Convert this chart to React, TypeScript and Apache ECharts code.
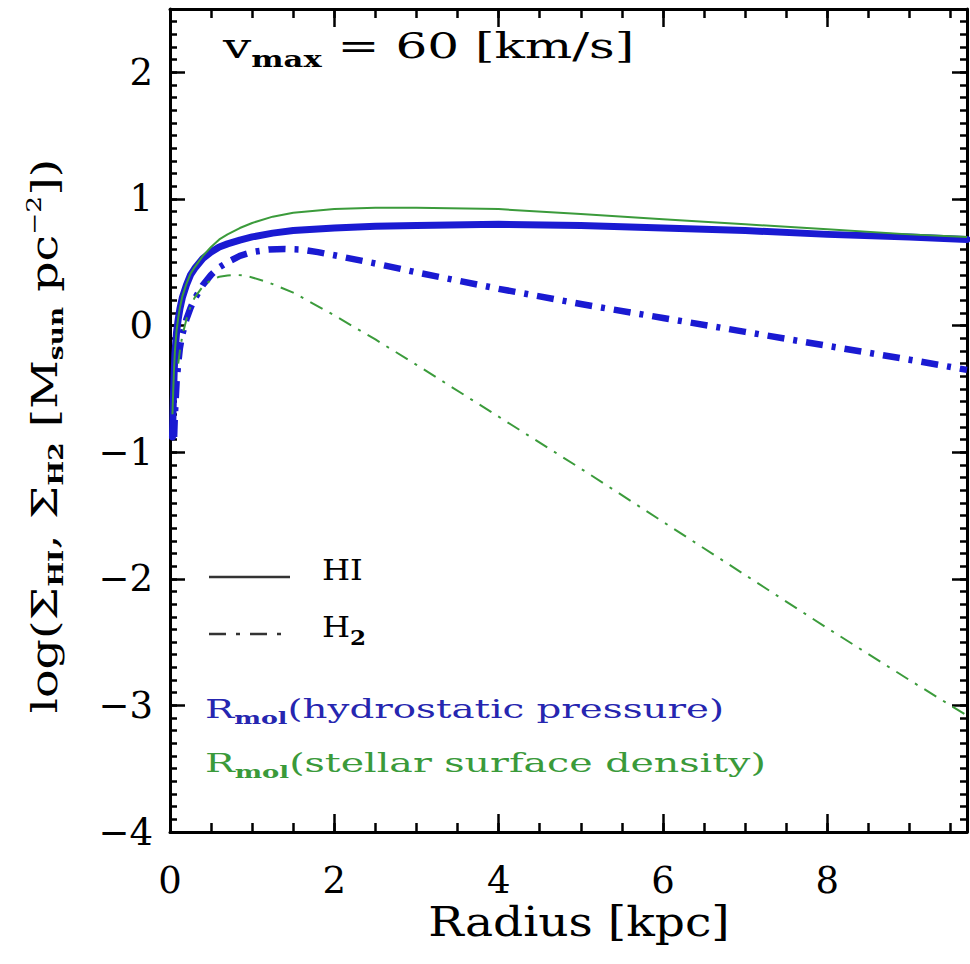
import React, { useEffect, useRef } from "react";
import * as echarts from "echarts";

// ---------- data ----------
const radiusHI = [0.03, 0.04, 0.05, 0.06, 0.08, 0.1, 0.12, 0.15, 0.2, 0.25, 0.3, 0.4, 0.5, 0.6, 0.7, 0.85, 1.0, 1.25, 1.5, 2, 2.5, 3, 4, 5, 6, 7, 8, 9, 9.7];
const hiPressure = [-0.88, -0.6, -0.38, -0.22, -0.05, 0.05, 0.13, 0.22, 0.32, 0.4, 0.45, 0.53, 0.58, 0.62, 0.645, 0.675, 0.7, 0.73, 0.75, 0.77, 0.785, 0.79, 0.8, 0.79, 0.77, 0.75, 0.72, 0.7, 0.68];
const hiStellar = [-0.7, -0.5, -0.33, -0.2, -0.04, 0.06, 0.14, 0.23, 0.33, 0.41, 0.46, 0.55, 0.62, 0.68, 0.72, 0.77, 0.81, 0.86, 0.89, 0.92, 0.93, 0.93, 0.92, 0.88, 0.84, 0.8, 0.76, 0.72, 0.7];

const radiusH2P = [0.05, 0.06, 0.08, 0.1, 0.12, 0.15, 0.2, 0.25, 0.3, 0.4, 0.5, 0.6, 0.7, 0.85, 1.0, 1.2, 1.4, 1.6, 1.8, 2, 2.5, 3, 4, 5, 6, 7, 8, 9, 9.7];
const h2Pressure = [-0.88, -0.7, -0.45, -0.3, -0.18, -0.07, 0.05, 0.14, 0.21, 0.32, 0.4, 0.46, 0.5, 0.55, 0.58, 0.6, 0.605, 0.6, 0.58, 0.555, 0.49, 0.42, 0.29, 0.17, 0.06, -0.05, -0.16, -0.27, -0.35];

const radiusH2S = [0.1, 0.12, 0.15, 0.2, 0.25, 0.3, 0.4, 0.5, 0.6, 0.7, 0.8, 0.9, 1.0, 1.2, 1.5, 2, 2.5, 3, 4, 5, 6, 7, 8, 9, 9.7];
const h2Stellar = [-0.3, -0.2, -0.08, 0.05, 0.15, 0.22, 0.31, 0.36, 0.385, 0.395, 0.4, 0.395, 0.38, 0.34, 0.26, 0.08, -0.11, -0.31, -0.72, -1.13, -1.55, -1.97, -2.39, -2.8, -3.08];

const xMin = 0;
const xMax = 9.7;
const yMin = -4;
const yMax = 2.5;

// ---------- styling ----------
const FONT = "'DejaVu Serif', serif";
const BLUE = "#1a1ad2";
const GREEN = "#3b9b3b";
const BLUE_TEXT = "#2626b0";
const GREEN_TEXT = "#3a9a3a";

const zip = (xs: number[], ys: number[]) => xs.map((x, i) => [x, ys[i]]);

const fmtY = (v: number) => {
  if (Math.abs(v - Math.round(v)) > 1e-6) return "";
  const r = Math.round(v);
  return r < 0 ? "\u2212" + Math.abs(r) : String(r);
};
const fmtX = (v: number) => {
  const r = Math.round(v);
  if (Math.abs(v - r) > 1e-6 || r % 2 !== 0) return "";
  return String(r);
};

function richText(opts: {
  x: number;
  y: number;
  text: string;
  size: number;
  subSize: number;
  subPad: number;
  supPad?: number;
  color: string;
  scaleX?: number;
  rotation?: number;
  align?: string;
}) {
  const { x, y, text, size, subSize, subPad, supPad = 0, color, scaleX = 1, rotation = 0, align = "left" } = opts;
  return {
    type: "text",
    x,
    y,
    scaleX,
    rotation,
    silent: true,
    style: {
      text,
      x: 0,
      y: 0,
      fill: color,
      fontFamily: FONT,
      fontSize: size,
      align,
      textAlign: align,
      verticalAlign: "middle",
      textVerticalAlign: "middle",
      rich: {
        a: { fontSize: size, fontFamily: FONT, fill: color },
        sub: { fontSize: subSize, fontFamily: FONT, fontWeight: "bold", fill: color, padding: [subPad, 0, 0, 0] },
        sup: { fontSize: subSize, fontFamily: FONT, fill: color, padding: [0, 0, supPad, 0] },
      },
    },
  };
}

const tickLine = { color: "#000", width: 2.5 };

function makeXAxis(position: "bottom" | "top", major: boolean) {
  return {
    type: "value",
    min: xMin,
    max: xMax,
    interval: major ? 2 : 0.5,
    position,
    axisLine: { show: major, onZero: false, lineStyle: { color: "#000", width: 3 } },
    axisTick: { show: true, inside: true, length: major ? 18 : 9, lineStyle: tickLine },
    axisLabel: {
      show: major && position === "bottom",
      formatter: fmtX,
      fontSize: 37,
      fontFamily: FONT,
      color: "#000",
      margin: 30,
    },
    splitLine: { show: false },
  };
}

function makeYAxis(position: "left" | "right", major: boolean) {
  return {
    type: "value",
    min: yMin,
    max: yMax,
    interval: major ? 1 : 0.1,
    position,
    axisLine: { show: major, onZero: false, lineStyle: { color: "#000", width: 3 } },
    axisTick: { show: true, inside: true, length: major ? 15 : 7, lineStyle: tickLine },
    axisLabel: {
      show: major && position === "left",
      formatter: fmtY,
      fontSize: 37,
      fontFamily: FONT,
      color: "#000",
      margin: 17,
    },
    splitLine: { show: false },
  };
}

export default function App() {
  const ref = useRef<HTMLDivElement>(null);

  useEffect(() => {
    document.body.style.margin = "0";
    if (!ref.current) return;
    const chart = echarts.init(ref.current, undefined, { renderer: "svg" });

    const option = {
      animation: false,
      backgroundColor: "#ffffff",
      grid: { left: 170, right: 1, top: 9, bottom: 132 },
      xAxis: [makeXAxis("bottom", true), makeXAxis("bottom", false), makeXAxis("top", true), makeXAxis("top", false)],
      yAxis: [makeYAxis("left", true), makeYAxis("left", false), makeYAxis("right", true), makeYAxis("right", false)],
      series: [
        {
          name: "HI (hydrostatic pressure)",
          type: "line",
          data: zip(radiusHI, hiPressure),
          showSymbol: false,
          lineStyle: { color: BLUE, width: 7, cap: "round", join: "round" },
        },
        {
          name: "H2 (hydrostatic pressure)",
          type: "line",
          data: zip(radiusH2P, h2Pressure),
          showSymbol: false,
          lineStyle: { color: BLUE, width: 6.5, type: [17, 9, 4, 9], cap: "butt", join: "round" },
        },
        {
          name: "HI (stellar surface density)",
          type: "line",
          data: zip(radiusHI, hiStellar),
          showSymbol: false,
          lineStyle: { color: GREEN, width: 2, join: "round" },
        },
        {
          name: "H2 (stellar surface density)",
          type: "line",
          data: zip(radiusH2S, h2Stellar),
          showSymbol: false,
          lineStyle: { color: GREEN, width: 2, type: [14, 8, 3, 8], cap: "butt", join: "round" },
        },
      ],
      graphic: [
        // title
        richText({ x: 223, y: 46, text: "{a|v}{sub|max}{a| = 60 [km/s]}", size: 36, subSize: 22, subPad: 26, color: "#000", scaleX: 1.39 }),
        // legend lines
        { type: "line", silent: true, shape: { x1: 209, y1: 577, x2: 290, y2: 577 }, style: { stroke: "#333", lineWidth: 2.5 } },
        { type: "line", silent: true, shape: { x1: 209, y1: 634, x2: 290, y2: 634 }, style: { stroke: "#333", lineWidth: 2.5, lineDash: [17, 10, 4, 10] } },
        richText({ x: 322, y: 570, text: "{a|HI}", size: 28, subSize: 18, subPad: 20, color: "#000", scaleX: 1.15 }),
        richText({ x: 322, y: 627, text: "{a|H}{sub|2}", size: 28, subSize: 20, subPad: 22, color: "#000", scaleX: 1.15 }),
        // model labels
        richText({ x: 205, y: 709, text: "{a|R}{sub|mol}{a|(hydrostatic pressure)}", size: 26, subSize: 17, subPad: 18, color: BLUE_TEXT, scaleX: 1.49 }),
        richText({ x: 205, y: 763, text: "{a|R}{sub|mol}{a|(stellar surface density)}", size: 26, subSize: 17, subPad: 18, color: GREEN_TEXT, scaleX: 1.52 }),
        // axis titles
        richText({ x: 579, y: 922, text: "{a|Radius [kpc]}", size: 41, subSize: 20, subPad: 0, color: "#000", scaleX: 1.15, align: "center" }),
        richText({
          x: 45,
          y: 436,
          text: "{a|log(\u03a3}{sub|HI}{a|, \u03a3}{sub|H2}{a| [M}{sub|sun}{a| pc}{sup|\u22122}{a|])}",
          size: 36,
          subSize: 20,
          subPad: 22,
          supPad: 22,
          color: "#000",
          scaleX: 1.32,
          rotation: Math.PI / 2,
          align: "center",
        }),
      ],
    };

    chart.setOption(option as any);
    return () => chart.dispose();
  }, []);

  return <div ref={ref} style={{ width: 970, height: 964 }} />;
}
